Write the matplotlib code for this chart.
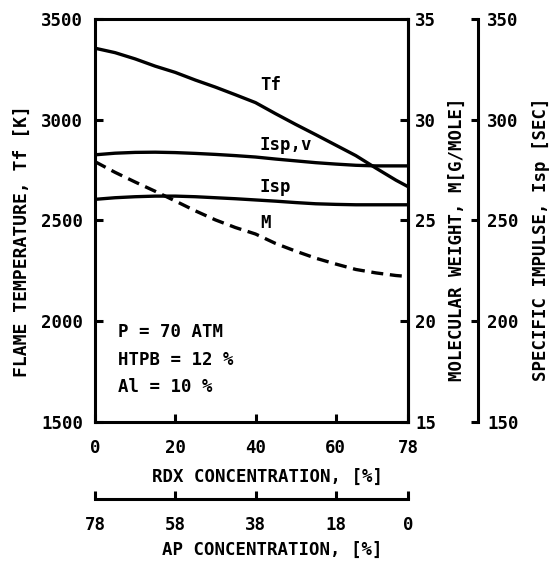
import matplotlib
matplotlib.use("Agg")
import matplotlib.pyplot as plt

# ---- data ----
rdx = [0, 5, 10, 15, 20, 25, 30, 35, 40, 45, 50, 55, 60, 65, 70, 75, 78]
tf = [3355, 3333, 3302, 3266, 3235, 3197, 3162, 3124, 3085, 3030, 2977,
      2926, 2874, 2822, 2760, 2700, 2668]
isp_v = [282.6, 283.4, 283.8, 283.9, 283.7, 283.3, 282.8, 282.2, 281.5,
         280.5, 279.6, 278.7, 278.0, 277.4, 277.1, 277.1, 277.1]
isp = [260.5, 261.3, 261.8, 262.1, 262.1, 261.8, 261.3, 260.8, 260.2,
       259.6, 258.9, 258.3, 258.0, 257.8, 257.8, 257.8, 257.8]
mw = [27.92, 27.39, 26.91, 26.45, 25.97, 25.48, 25.03, 24.65, 24.33,
      23.86, 23.48, 23.13, 22.84, 22.57, 22.40, 22.27, 22.22]

rdx_ticks = [0, 20, 40, 60, 78]
ap_ticks = [78, 58, 38, 18, 0]
tf_ticks = [1500, 2000, 2500, 3000, 3500]
m_ticks = [15, 20, 25, 30, 35]
isp_ticks = [150, 200, 250, 300, 350]

plt.rcParams['font.family'] = ['DejaVu Sans Mono', 'DejaVu Sans']
plt.rcParams['font.weight'] = 'bold'
FS = 12.5
LW_SP = 2.2
LW = 2.4

fig = plt.figure(figsize=(5.55, 5.61), dpi=100)
W, H = 555, 561
L, R, T, B = 95, 408, 19, 422
ax = fig.add_axes([L / W, 1 - B / H, (R - L) / W, (B - T) / H])

ax.plot(rdx, tf, color='black', lw=LW, solid_capstyle='butt')
ax.set_xlim(0, 78)
ax.set_ylim(1500, 3500)
ax.set_xticks(rdx_ticks)
ax.set_yticks(tf_ticks)
ax.tick_params(axis='both', direction='in', length=6, width=2.2, labelsize=FS,
               top=False, right=False)
ax.tick_params(axis='x', pad=12.5)
ax.tick_params(axis='y', pad=8.5)
for s in ax.spines.values():
    s.set_linewidth(LW_SP)

ax.set_ylabel('FLAME TEMPERATURE, Tf [K]', fontsize=13, fontweight='bold')
ax.yaxis.label.set_va('center'); ax.yaxis.label.set_ha('center')
ax.yaxis.set_label_coords((22 - L) / (R - L), (B - 241) / (B - T))
ax.set_xlabel('RDX CONCENTRATION, [%]', fontsize=FS, fontweight='bold')
ax.xaxis.label.set_va('center'); ax.xaxis.label.set_ha('center')
ax.xaxis.set_label_coords((267 - L) / (R - L), (B - 477) / (B - T))

# molecular weight axis
axm = ax.twinx()
axm.plot(rdx, mw, color='black', lw=LW, dashes=(3.6, 2.0))
axm.set_ylim(15, 35)
axm.set_yticks(m_ticks)
axm.tick_params(axis='y', direction='in', length=6, width=2.2, labelsize=FS, pad=5)
for k in ('top', 'left', 'bottom'):
    axm.spines[k].set_visible(False)
axm.spines['right'].set_linewidth(LW_SP)
axm.set_ylabel('MOLECULAR WEIGHT, M[G/MOLE]', fontsize=FS, fontweight='bold')
axm.yaxis.label.set_va('center'); axm.yaxis.label.set_ha('center')
axm.yaxis.set_label_coords((457 - L) / (R - L), (B - 239) / (B - T))

# specific impulse axis
axi = ax.twinx()
axi.spines['right'].set_position(('outward', 70 * 0.72))
axi.plot(rdx, isp_v, color='black', lw=LW)
axi.plot(rdx, isp, color='black', lw=LW)
axi.set_ylim(150, 350)
axi.set_yticks(isp_ticks)
axi.tick_params(axis='y', direction='in', length=5, width=2.2, labelsize=FS, pad=6.5)
for k in ('top', 'left', 'bottom'):
    axi.spines[k].set_visible(False)
axi.spines['right'].set_linewidth(LW_SP)
axi.set_ylabel('SPECIFIC IMPULSE, Isp [SEC]', fontsize=FS, fontweight='bold')
axi.yaxis.label.set_va('center'); axi.yaxis.label.set_ha('center')
axi.yaxis.set_label_coords((541 - L) / (R - L), (B - 239) / (B - T))

# AP concentration axis
axa = ax.twiny()
axa.set_xlim(78, 0)
axa.set_xticks(ap_ticks)
axa.xaxis.set_ticks_position('bottom')
axa.xaxis.set_label_position('bottom')
axa.spines['bottom'].set_position(('outward', 77 * 0.72))
for k in ('top', 'left', 'right'):
    axa.spines[k].set_visible(False)
axa.spines['bottom'].set_linewidth(LW_SP)
axa.tick_params(axis='x', direction='in', length=6, width=2.2, labelsize=FS, pad=12.5)
axa.set_xlabel('AP CONCENTRATION, [%]', fontsize=FS, fontweight='bold')
axa.xaxis.label.set_va('center'); axa.xaxis.label.set_ha('center')
axa.xaxis.set_label_coords((272 - L) / (R - L), (B - 550) / (B - T))

# curve labels
lx = 41.1
ax.text(lx, 3172, 'Tf', fontsize=FS, fontweight='bold', va='center', ha='left')
ax.text(lx, 2875, 'Isp,v', fontsize=FS, fontweight='bold', va='center', ha='left')
ax.text(lx, 2666, 'Isp', fontsize=FS, fontweight='bold', va='center', ha='left')
ax.text(lx, 2488, 'M', fontsize=FS, fontweight='bold', va='center', ha='left')

# conditions
ax.text(5.7, 1948, 'P = 70 ATM', fontsize=FS, fontweight='bold', va='center', ha='left')
ax.text(5.7, 1808, 'HTPB = 12 %', fontsize=FS, fontweight='bold', va='center', ha='left')
ax.text(5.7, 1672, 'Al = 10 %', fontsize=FS, fontweight='bold', va='center', ha='left')

fig.savefig('out.png', dpi=100)
